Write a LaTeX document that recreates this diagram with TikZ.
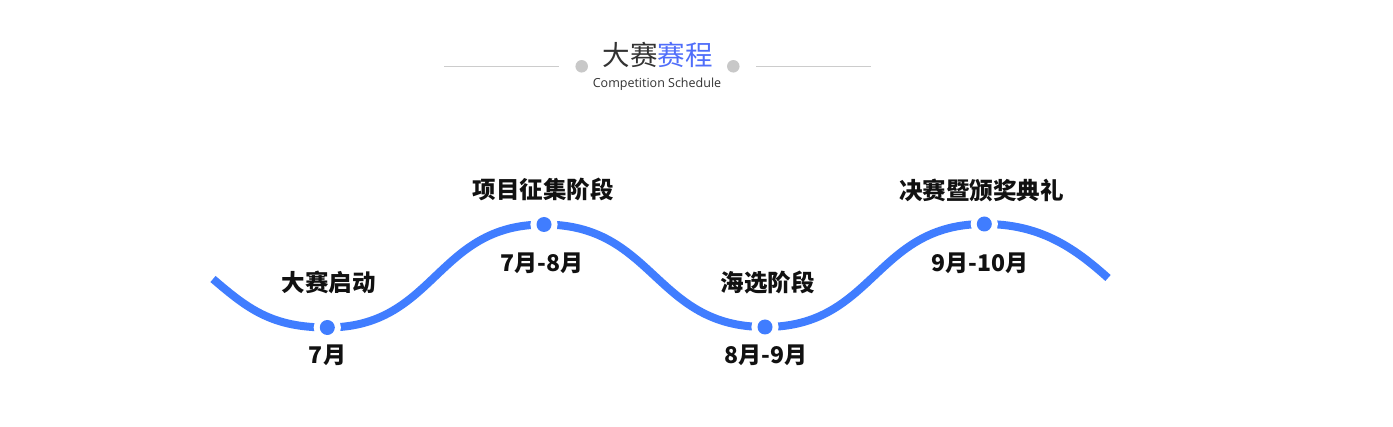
\documentclass[tikz,border=0pt]{standalone}
\usepackage{fontspec}
\setmainfont{Noto Sans CJK SC}
\newfontfamily\cjk{Noto Sans CJK SC}
\newfontfamily\latinsans{Open Sans}
\definecolor{waveblue}{RGB}{64,125,255}
\definecolor{titleblue}{RGB}{80,110,250}
\definecolor{titlegray}{RGB}{51,51,51}
\definecolor{rulegray}{RGB}{204,204,204}
\definecolor{dotgray}{RGB}{200,200,200}
\definecolor{labelblack}{RGB}{17,17,17}
\tikzset{
  wave/.style={draw=waveblue, line width=8pt, line cap=butt},
  dotnode/.style={circle, fill=waveblue, inner sep=0pt, minimum size=15pt,
    preaction={draw=white, line width=12pt}},
  graydot/.style={circle, fill=dotgray, inner sep=0pt, minimum size=12.5pt},
  rule/.style={draw=rulegray, line width=0.8pt},
  stagelabel/.style={inner sep=0pt, text=labelblack, font=\cjk\bfseries\fontsize{23.5}{28}\selectfont},
  datelabel/.style={inner sep=0pt, text=labelblack, font=\cjk\bfseries\fontsize{23}{27}\selectfont},
}
\begin{document}
\begin{tikzpicture}[x=1pt, y=-1pt]
\fill[white] (0,0) rectangle (1393,427);
\useasboundingbox (0,0) rectangle (1393,427);

% title
\node[inner sep=0pt, font=\cjk\fontsize{27.5}{32}\selectfont] (title) at (657.5,54.5)
  {\textcolor{titlegray}{大赛}\textcolor{titleblue}{赛程}};
\node[inner sep=0pt, text=titlegray, font=\latinsans\fontsize{12.5}{15}\selectfont] (subtitle) at (657,84.5) {Competition Schedule};
\node[graydot] (gl) at (581.7,66.3) {};
\node[graydot] (gr) at (733.3,66.3) {};
\coordinate (rl1) at (444,66.5);
\coordinate (rl2) at (559,66.5);
\coordinate (rr1) at (756,66.5);
\coordinate (rr2) at (871,66.5);
\draw[rule] (rl1) -- (rl2);
\draw[rule] (rr1) -- (rr2);

% wave
\coordinate (ws) at (213,279);
\coordinate (we) at (1108,278);
\coordinate (p1) at (327.3,327.5);
\coordinate (p2) at (544,224.5);
\coordinate (p3) at (765,327);
\coordinate (p4) at (984.3,224);
\draw[wave] (ws) .. controls (248,309) and (272,327.5) .. (p1)
  .. controls (435.6,327.5) and (435.6,224.5) .. (p2)
  .. controls (654.5,224.5) and (654.5,327) .. (p3)
  .. controls (874.6,327) and (874.6,224) .. (p4)
  .. controls (1039,224) and (1073,246.5) .. (we);

\node[dotnode] (d1) at (p1) {};
\node[dotnode] (d2) at (p2) {};
\node[dotnode] (d3) at (p3) {};
\node[dotnode] (d4) at (p4) {};

% labels
\node[stagelabel] (s1) at (328.5,282.5) {大赛启动};
\node[datelabel]  (t1) at (327.5,355.5) {7月};
\node[stagelabel] (s2) at (543,189.5) {项目征集阶段};
\node[datelabel]  (t2) at (542,263.5) {7月-8月};
\node[stagelabel] (s3) at (767.5,282.5) {海选阶段};
\node[datelabel]  (t3) at (766,355.5) {8月-9月};
\node[stagelabel] (s4) at (981.5,190.5) {决赛暨颁奖典礼};
\node[datelabel]  (t4) at (980,263.5) {9月-10月};
\end{tikzpicture}
\end{document}
